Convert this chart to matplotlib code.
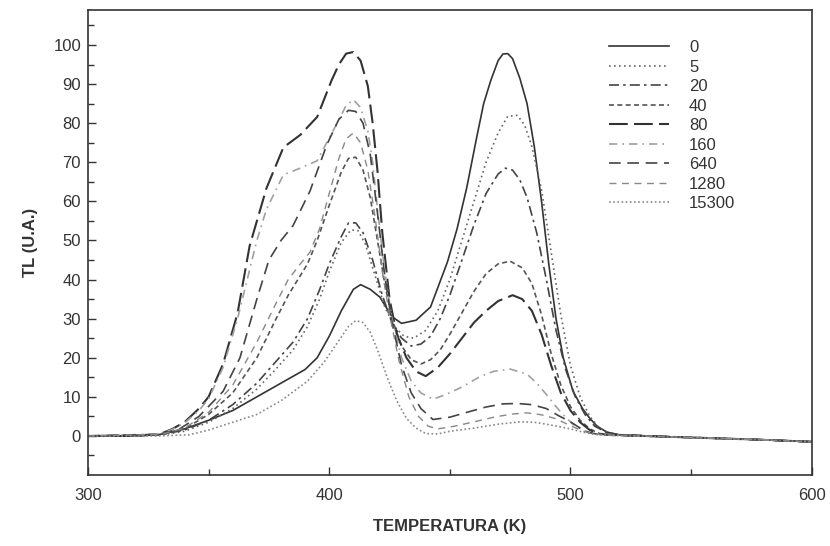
import matplotlib
matplotlib.use("Agg")
import matplotlib.pyplot as plt
from matplotlib.ticker import MultipleLocator

plt.rcParams['font.family'] = ['Liberation Sans', 'DejaVu Sans']

# glow curves, T in K, TL in arbitrary units
T0 = [300, 320, 330, 340, 350, 360, 370, 380, 390, 395, 400, 405, 410, 413, 417, 421, 426, 430, 436, 442,
      449, 453, 457, 461, 464, 467, 470, 472, 474, 476, 479, 482, 485, 488, 491, 494, 497, 501, 505, 508,
      511, 515, 520, 540, 560, 580, 600]
v0 = [0, 0, 0.4, 1.8, 4, 6.5, 10, 13.5, 17, 20, 25.5, 32, 37.5, 38.7, 37.5, 35.5, 30.5, 28.8, 29.6, 33,
      44.5, 53, 63.5, 76, 85, 91, 96, 97.7, 97.8, 96.5, 91.5, 85, 74, 60, 44, 30, 20, 11.5, 7, 4.5,
      2.5, 1, 0.3, -0.2, -0.6, -1, -1.5]

T5 = [300, 330, 340, 350, 360, 370, 377, 385, 391, 396, 400, 405, 409, 412, 415, 419, 423, 427, 431, 435,
      440, 445, 450, 455, 460, 465, 470, 474, 478, 481, 484, 488, 492, 496, 500, 504, 508, 512, 516, 520,
      540, 560, 580, 600]
v5 = [0, 0.2, 1.2, 3.5, 7, 12, 16.5, 22, 28, 35, 42, 49.5, 52.7, 52.5, 49, 41, 33, 28, 25.5, 25,
      27, 32, 40, 50, 60, 70, 77.5, 81.8, 82, 79.5, 74, 63, 47, 31, 18, 10, 5, 2, 0.7, 0.3,
      -0.2, -0.6, -1, -1.5]

T20 = [300, 330, 340, 350, 360, 370, 377, 385, 391, 396, 400, 405, 408, 411, 414, 418, 422, 426, 430, 434,
       438, 442, 446, 450, 455, 460, 465, 470, 473, 476, 479, 482, 486, 490, 494, 498, 502, 506, 510, 515,
       520, 540, 560, 580, 600]
v20 = [0, 0.3, 1.5, 4, 8, 13.5, 18.4, 24, 30, 37.4, 44, 51, 54.5, 54.5, 52, 45, 36, 29, 25, 23,
       23.5, 25.5, 30, 36, 45, 54, 62, 67, 68.5, 68, 65.5, 61, 52, 40, 27, 17, 10, 5.5, 2.5, 0.9,
       0.3, -0.2, -0.6, -1, -1.5]

T40 = [300, 330, 340, 350, 360, 370, 378, 383, 387, 391, 395, 400, 405, 408, 411, 414, 417, 420, 423, 426,
       430, 434, 438, 442, 446, 450, 455, 460, 465, 470, 475, 480, 484, 488, 492, 496, 500, 504, 508, 512,
       520, 540, 560, 580, 600]
v40 = [0, 0.3, 1.8, 5.5, 11, 20, 30, 36, 40, 44, 50, 59, 67.5, 71, 71.3, 68, 61, 50, 39, 30,
       23, 19.5, 18.4, 19.5, 22, 26, 31.5, 37, 41.5, 44, 44.7, 43, 39, 31, 21, 13, 7.5, 4, 1.8, 0.6,
       0.2, -0.2, -0.6, -1, -1.5]

T80 = [300, 320, 330, 335, 340, 346, 350, 356, 362, 367, 374, 381, 388, 395, 401, 404, 407, 410, 413, 416,
       418, 420, 422, 425, 428, 432, 436, 440, 445, 450, 455, 460, 465, 470, 476, 480, 484, 488, 492, 496,
       500, 504, 508, 512, 520, 540, 560, 580, 600]
v80 = [0, 0, 0.5, 1.8, 3.5, 7, 10, 18.4, 31.4, 48.6, 63.4, 73.8, 77, 81.6, 91, 95, 97.8, 98.2, 96, 89.5,
       80, 67.8, 52, 35, 26, 20, 16.5, 15.3, 17.5, 21, 25, 29, 32, 34.5, 36, 35, 32, 26, 18, 11,
       6.5, 3.5, 1.5, 0.5, 0.2, -0.2, -0.6, -1, -1.5]

T160 = [300, 330, 335, 340, 346, 350, 356, 362, 366, 370, 374, 381, 388, 395, 403, 407, 410, 413, 416, 418,
        420, 423, 426, 430, 434, 438, 443, 448, 455, 462, 468, 475, 482, 486, 490, 494, 497, 501, 505, 510,
        520, 540, 560, 580, 600]
v160 = [0, 0.5, 1.7, 3.3, 6.5, 9.5, 17.5, 30, 40, 50, 58, 66.8, 68.5, 70.4, 79.7, 84.5, 86, 84, 78, 70,
        58, 42, 30, 20, 14, 11, 9.4, 10.5, 12.5, 15, 16.5, 17.1, 15.8, 13.5, 10.6, 7.5, 5.4, 3, 1.5, 0.5,
        0.2, -0.2, -0.6, -1, -1.5]

T640 = [300, 330, 338, 346, 356, 363, 370, 375, 380, 385, 392, 399, 404, 408, 411, 414, 417, 420, 423, 426,
        430, 434, 438, 443, 450, 458, 465, 472, 478, 484, 490, 495, 500, 504, 507, 512, 520, 540, 560, 580,
        600]
v640 = [0, 0.4, 1.8, 5, 11.4, 20, 35, 45, 50, 53.8, 62.6, 74.5, 81, 83.3, 83, 80, 72, 57, 41, 29,
        18, 11, 7, 4.2, 4.8, 6.2, 7.4, 8.2, 8.3, 8, 7, 5.2, 3.6, 2, 1, 0.3, 0.1, -0.2, -0.6, -1,
        -1.5]

T1280 = [300, 330, 340, 350, 360, 370, 378, 383, 388, 392, 396, 400, 404, 407, 410, 413, 416, 419, 422, 425,
         429, 433, 437, 441, 445, 452, 460, 469, 476, 482, 488, 494, 500, 505, 510, 520, 540, 560, 580, 600]
v1280 = [0, 0.4, 2, 6, 13, 24, 34, 40, 44, 47, 53, 62, 71, 76, 77.5, 75, 68, 56, 42, 31,
         19, 10, 5, 2.5, 1.8, 2.5, 3.6, 4.9, 5.6, 5.9, 5.4, 4.4, 2.6, 1.3, 0.4, 0.1, -0.2, -0.6, -1, -1.5]

T15300 = [300, 330, 342, 350, 360, 370, 380, 391, 398, 404, 408, 411, 414, 417, 420, 424, 428, 432, 436, 440,
          445, 450, 460, 470, 479, 485, 490, 495, 500, 505, 510, 520, 540, 560, 580, 600]
v15300 = [0, 0, 0.3, 1.5, 3.5, 5.5, 9, 14, 19, 24.4, 28, 29.5, 29, 26.5, 22, 15, 9, 4.5, 2, 0.6,
          0.5, 1.2, 2, 3, 3.6, 3.5, 3, 2.4, 1.8, 1, 0.4, 0.1, -0.2, -0.6, -1, -1.5]

labels = ["0", "5", "20", "40", "80", "160", "640", "1280", "15300"]

fig = plt.figure(figsize=(8.3, 5.46), dpi=100)
ax = fig.add_axes([0.106, 0.13, 0.872, 0.852])

ax.plot(T0, v0, color="#333333", lw=1.2, ls="-", label=labels[0])
ax.plot(T5, v5, color="#666666", lw=1.2, ls=(0, (1, 2)), label=labels[1])
ax.plot(T20, v20, color="#444444", lw=1.2, ls=(0, (6, 2.5, 1.5, 2.5)), label=labels[2])
ax.plot(T40, v40, color="#555555", lw=1.2, ls=(0, (3, 2)), label=labels[3])
ax.plot(T80, v80, color="#333333", lw=1.5, ls=(0, (9, 3)), label=labels[4])
ax.plot(T160, v160, color="#a0a0a0", lw=1.2, ls=(0, (5, 3, 1, 3)), label=labels[5])
ax.plot(T640, v640, color="#444444", lw=1.2, ls=(0, (7, 4)), label=labels[6])
ax.plot(T1280, v1280, color="#888888", lw=1.0, ls=(0, (5, 4)), label=labels[7])
ax.plot(T15300, v15300, color="#888888", lw=1.2, ls=(0, (1, 1.5)), label=labels[8])

ax.set_xlim(300, 600)
ax.set_ylim(-10, 109)
ax.set_xticks([300, 400, 500, 600])
ax.xaxis.set_minor_locator(MultipleLocator(50))
ax.set_yticks(range(0, 101, 10))
ax.set_yticks([-5, 5, 15, 25, 35, 45, 55, 65, 75, 85, 95, 105], minor=True)
ax.tick_params(which="both", direction="in", colors="#333333", labelcolor="#333333",
               labelsize=12)
ax.tick_params(which="major", length=6, width=1)
ax.tick_params(which="minor", length=4, width=1)
ax.tick_params(axis="x", pad=9)
ax.tick_params(axis="y", pad=5)
for s in ax.spines.values():
    s.set_color("#333333")
    s.set_linewidth(1.2)

ax.set_xlabel("TEMPERATURA (K)", fontsize=12, fontweight="bold", color="#333333", labelpad=12)
ax.set_ylabel("TL (U.A.)", fontsize=12, fontweight="bold", color="#333333", labelpad=11)

ax.legend(loc="upper left", bbox_to_anchor=(0.72, 0.935), frameon=False, fontsize=12,
          handlelength=3.6, handletextpad=1.2, labelspacing=0.27, borderpad=0, borderaxespad=0,
          labelcolor="#333333")

fig.savefig("out.png", dpi=100)
